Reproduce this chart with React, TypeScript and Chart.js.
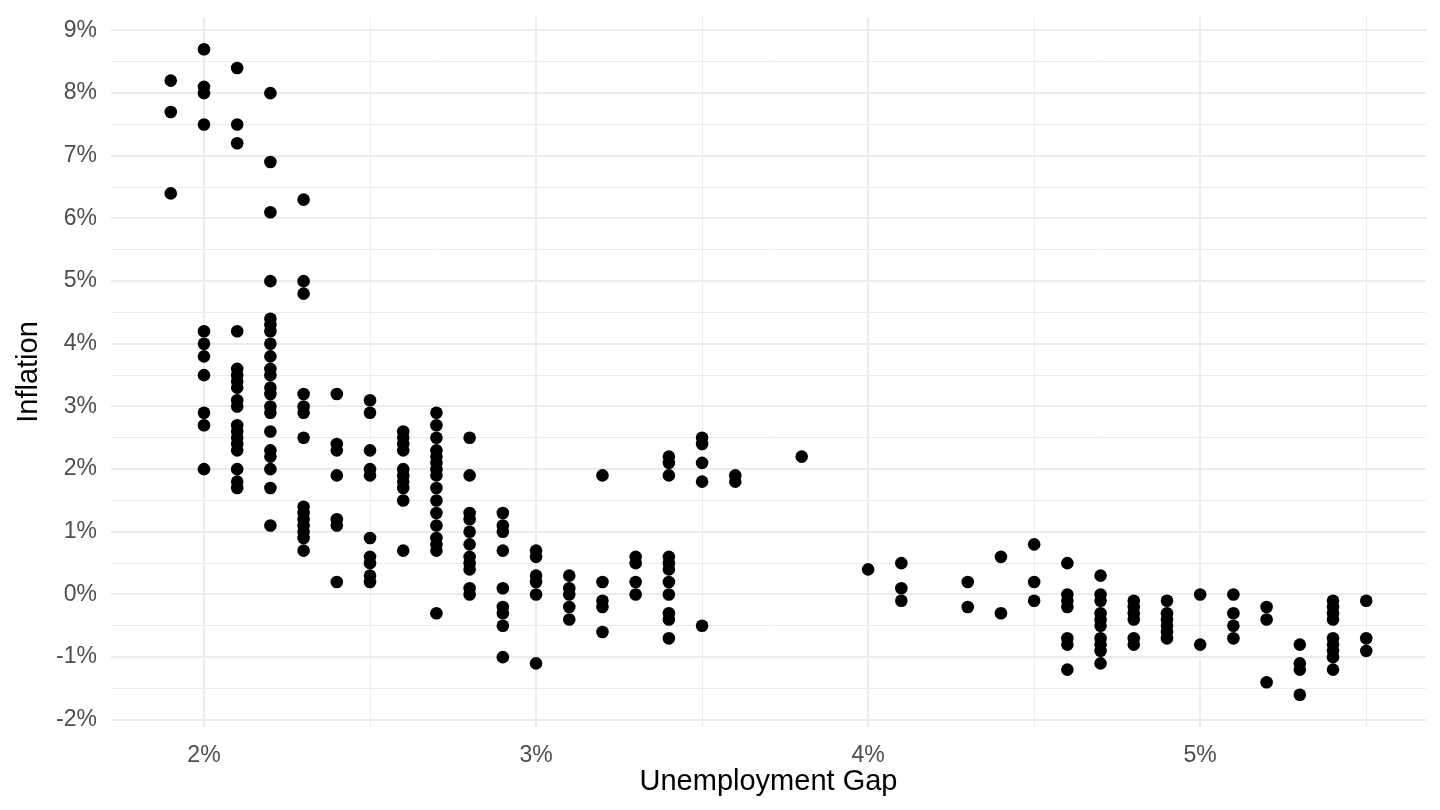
import { useEffect, useRef } from "react";
import { Chart, registerables } from "chart.js";

Chart.register(...registerables);

// Unemployment gap levels (%) and the inflation readings (%) observed at each level
const gapLevels = [1.9, 2.0, 2.1, 2.2, 2.3, 2.4, 2.5, 2.6, 2.7, 2.8, 2.9, 3.0, 3.1, 3.2, 3.3, 3.4, 3.5, 3.6, 3.8, 4.0, 4.1, 4.3, 4.4, 4.5, 4.6, 4.7, 4.8, 4.9, 5.0, 5.1, 5.2, 5.3, 5.4, 5.5];

const inflationByGap: number[][] = [
  [8.2, 7.7, 6.4],
  [8.7, 8.1, 8.0, 7.5, 4.2, 4.0, 3.8, 3.5, 2.9, 2.7, 2.0],
  [8.4, 7.5, 7.2, 4.2, 3.6, 3.5, 3.4, 3.3, 3.1, 3.0, 2.7, 2.6, 2.5, 2.4, 2.3, 2.0, 1.8, 1.7],
  [8.0, 6.9, 6.1, 5.0, 4.4, 4.3, 4.2, 4.0, 3.8, 3.6, 3.5, 3.3, 3.2, 3.0, 2.9, 2.6, 2.3, 2.2, 2.0, 1.7, 1.1],
  [6.3, 5.0, 4.8, 3.2, 3.0, 2.9, 2.5, 1.4, 1.3, 1.2, 1.1, 1.0, 0.9, 0.7],
  [3.2, 2.4, 2.3, 1.9, 1.2, 1.1, 0.2],
  [3.1, 2.9, 2.3, 2.0, 1.9, 0.9, 0.6, 0.5, 0.3, 0.2],
  [2.6, 2.5, 2.4, 2.3, 2.0, 1.9, 1.8, 1.7, 1.5, 0.7],
  [2.9, 2.7, 2.5, 2.3, 2.2, 2.1, 2.0, 1.9, 1.7, 1.5, 1.3, 1.1, 0.9, 0.8, 0.7, -0.3],
  [2.5, 1.9, 1.3, 1.2, 1.0, 0.8, 0.6, 0.5, 0.4, 0.1, 0.0],
  [1.3, 1.1, 1.0, 0.7, 0.1, -0.2, -0.3, -0.5, -1.0],
  [0.7, 0.6, 0.3, 0.2, 0.0, -1.1],
  [0.3, 0.1, 0.0, -0.2, -0.4],
  [1.9, 0.2, -0.1, -0.2, -0.6],
  [0.6, 0.5, 0.2, 0.0],
  [2.2, 2.1, 1.9, 0.6, 0.5, 0.4, 0.2, 0.0, -0.3, -0.4, -0.7],
  [2.5, 2.4, 2.1, 1.8, -0.5],
  [1.9, 1.8],
  [2.2],
  [0.4],
  [0.5, 0.1, -0.1],
  [0.2, -0.2],
  [0.6, -0.3],
  [0.8, 0.2, -0.1],
  [0.5, 0.0, -0.1, -0.2, -0.7, -0.8, -1.2],
  [0.3, 0.0, -0.1, -0.3, -0.4, -0.5, -0.7, -0.8, -0.9, -1.1],
  [-0.1, -0.2, -0.3, -0.4, -0.7, -0.8],
  [-0.1, -0.3, -0.4, -0.5, -0.6, -0.7],
  [0.0, -0.8],
  [0.0, -0.3, -0.5, -0.7],
  [-0.2, -0.4, -1.4],
  [-0.8, -1.1, -1.2, -1.6],
  [-0.1, -0.2, -0.3, -0.4, -0.7, -0.8, -0.9, -1.0, -1.2],
  [-0.1, -0.7, -0.9],
];

// Grid positions (major at whole percents, minor halfway between)
const xGridValues = [2, 2.5, 3, 3.5, 4, 4.5, 5, 5.5];
const yGridValues = [-2, -1.5, -1, -0.5, 0, 0.5, 1, 1.5, 2, 2.5, 3, 3.5, 4, 4.5, 5, 5.5, 6, 6.5, 7, 7.5, 8, 8.5, 9];

const xTitle = "Unemployment Gap";
const yTitle = "Inflation";

const FONT = "'Liberation Sans', Arial, Helvetica, sans-serif";

const isMajor = (v: number) => Math.abs(v - Math.round(v)) < 1e-9;

const zeroPadding = (s: any) => {
  s.paddingTop = 0;
  s.paddingBottom = 0;
  s.paddingLeft = 0;
  s.paddingRight = 0;
};

export default function App() {
  const canvasRef = useRef<HTMLCanvasElement | null>(null);

  useEffect(() => {
    const canvas = canvasRef.current;
    if (!canvas) return;

    const points = gapLevels.flatMap((g, i) => inflationByGap[i].map((v) => ({ x: g, y: v })));

    const chart = new Chart(canvas, {
      type: "scatter",
      data: {
        datasets: [
          {
            data: points,
            backgroundColor: "#000000",
            borderWidth: 0,
            pointRadius: 6.3,
            pointHoverRadius: 6.3,
          },
        ],
      },
      options: {
        animation: false,
        responsive: false,
        events: [],
        layout: { padding: { top: 17, right: 14, bottom: 0, left: 0 } },
        plugins: {
          legend: { display: false },
          tooltip: { enabled: false },
        },
        scales: {
          x: {
            type: "linear",
            min: 1.72,
            max: 5.68,
            afterBuildTicks: (s: any) => {
              s.ticks = xGridValues.map((v) => ({ value: v }));
            },
            afterFit: (s: any) => {
              s.height = 83;
              zeroPadding(s);
            },
            ticks: {
              autoSkip: false,
              maxRotation: 0,
              padding: 15,
              color: "#4D4D4D",
              font: { family: FONT, size: 23 },
              callback: (v: any) => (isMajor(Number(v)) ? `${Math.round(Number(v))}%` : ""),
            },
            grid: {
              drawTicks: false,
              color: "#EBEBEB",
              lineWidth: (ctx: any) => (ctx.tick && isMajor(ctx.tick.value) ? 2 : 1),
            },
            border: { display: false },
            title: {
              display: true,
              text: xTitle,
              color: "#000000",
              font: { family: FONT, size: 29 },
              padding: { top: 0, bottom: 11 },
            },
          },
          y: {
            type: "linear",
            min: -2.115,
            max: 9.215,
            afterBuildTicks: (s: any) => {
              s.ticks = yGridValues.map((v) => ({ value: v }));
            },
            afterFit: (s: any) => {
              s.width = 111;
              zeroPadding(s);
            },
            ticks: {
              autoSkip: false,
              padding: 14,
              color: "#4D4D4D",
              font: { family: FONT, size: 23 },
              callback: (v: any) => (isMajor(Number(v)) ? `${Math.round(Number(v))}%` : ""),
            },
            grid: {
              drawTicks: false,
              color: "#EBEBEB",
              lineWidth: (ctx: any) => (ctx.tick && isMajor(ctx.tick.value) ? 2 : 1),
            },
            border: { display: false },
            title: {
              display: true,
              text: yTitle,
              color: "#000000",
              font: { family: FONT, size: 29 },
              padding: { top: 12, bottom: 0 },
            },
          },
        },
      },
    });

    return () => chart.destroy();
  }, []);

  return (
    <div style={{ position: "absolute", left: 0, top: 0, width: 1440, height: 810, background: "#ffffff" }}>
      <canvas ref={canvasRef} width={1440} height={810} style={{ display: "block", width: 1440, height: 810 }} />
    </div>
  );
}
